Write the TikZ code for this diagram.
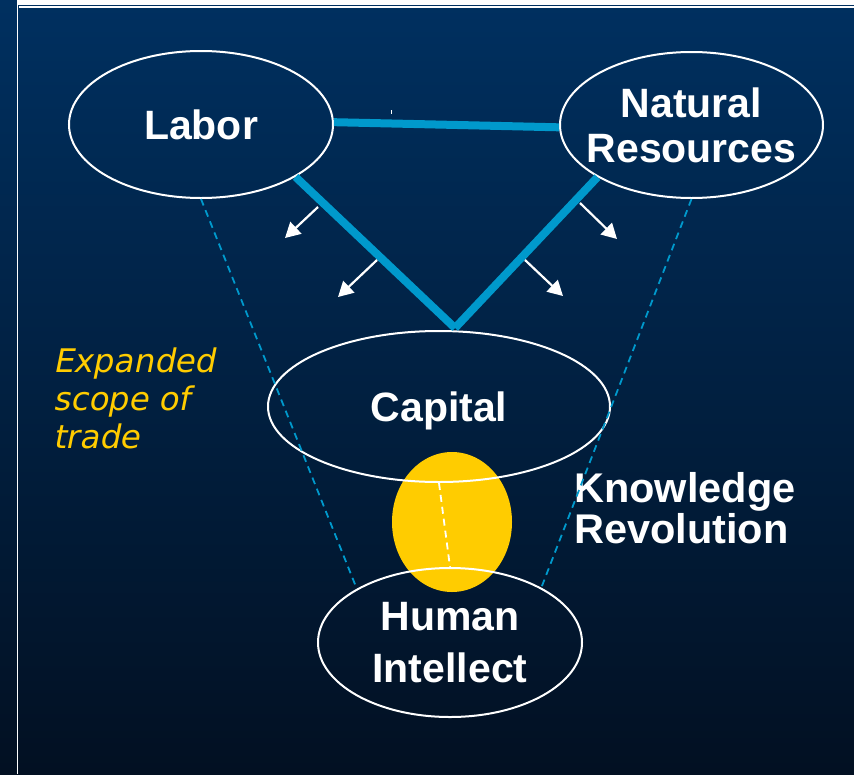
\documentclass[tikz,border=0pt]{standalone}
\usepackage{fontspec}
\setmainfont{Liberation Sans}
\newfontfamily\tradefont[FakeSlant=0.2]{DejaVu Sans}
\usetikzlibrary{shapes.geometric, arrows.meta}
\definecolor{slidetop}{RGB}{0,48,96}
\definecolor{slidebottom}{RGB}{2,16,34}
\definecolor{linkblue}{RGB}{0,153,204}
\definecolor{knowyellow}{RGB}{255,204,0}

\begin{document}
\begin{tikzpicture}[x=1pt, y=-1pt,
  factor/.style={ellipse, draw=white, line width=2pt, inner sep=0pt, text depth=0pt,
    text=white, align=center, font=\bfseries\fontsize{41}{45}\selectfont},
  link/.style={linkblue, line width=8pt},
  trace/.style={linkblue, line width=1.8pt, dash pattern=on 7pt off 5pt},
  pusharrow/.style={white, line width=2.2pt, -{Triangle[length=15pt, width=16pt]}}]
  % slide background and frame
  \useasboundingbox (0,0) rectangle (854,774);
  \shade[top color=slidetop, bottom color=slidebottom] (0,0) rectangle (854,774);
  \fill[white] (18,0) rectangle (854,4.5);
  \draw[white, line width=1.4pt] (17.6,0) -- (17.6,774);
  \draw[white, line width=1.2pt] (19,7) -- (854,7);
  % knowledge blob
  \fill[knowyellow] (452,522) ellipse [x radius=60, y radius=70];
  % factors of production
  \node[factor, minimum width=264pt, minimum height=147pt] (labor) at (201,124.5) {Labor};
  \node[factor, inner xsep=-13pt, minimum width=263pt, minimum height=146pt] (natres) at (691.5,125) {Natural\\Resources};
  \node[factor, minimum width=342pt, minimum height=151pt] (capital) at (439,406.5) {Capital};
  \node[factor, minimum width=264pt, minimum height=149pt] (human) at (450,642.5) {Human\\[7pt]Intellect};
  \node[anchor=north west, inner sep=0pt, text=white, align=left,
    font=\bfseries\fontsize{41.5}{41}\selectfont] (revolution) at (574,472) {Knowledge\\Revolution};
  \node[anchor=north west, inner sep=0pt, text=knowyellow, align=left,
    font=\tradefont\fontsize{32.5}{38}\selectfont] (scope) at (53,348) {Expanded\\scope of\\trade};
  % trade links
  \coordinate (apex) at (455,328);
  \draw[link] (labor.1.5) -- (natres.-179);
  \draw[link] (labor.-29) -- (apex);
  \draw[link] (natres.-151) -- (apex);
  \draw[white, line width=1pt] (391,110) -- (391,114);
  \foreach \xa/\ya/\xb/\yb in {318/207/285/238, 377/260/338/297, 580/203/617/239, 525/260/563/296}{
    \draw[pusharrow] (\xa,\ya) -- (\xb,\yb);
  }
  % scope lines
  \draw[trace] (labor.south) -- (human.150.6);
  \draw[trace] (natres.south) -- (human.31);
  \draw[white, line width=1.8pt, dash pattern=on 7pt off 5pt] (capital.south) -- (human.north);
\end{tikzpicture}
\end{document}
